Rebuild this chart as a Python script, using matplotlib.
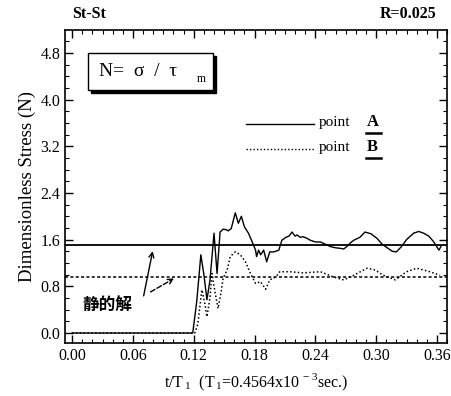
import numpy as np
import matplotlib
matplotlib.use("Agg")
import matplotlib.pyplot as plt
from matplotlib.patches import Rectangle
from matplotlib.ticker import MultipleLocator

plt.rcParams['font.family'] = ['Liberation Serif', 'DejaVu Serif']
plt.rcParams['mathtext.fontset'] = 'custom'
plt.rcParams['mathtext.rm'] = 'Liberation Serif'

# point A (solid)
t_a = [0.0, 0.119, 0.123, 0.127, 0.130, 0.133, 0.136, 0.140, 0.143, 0.146,
       0.149, 0.152, 0.154, 0.157, 0.161, 0.164, 0.167, 0.170, 0.174, 0.177,
       0.181, 0.182, 0.184, 0.186, 0.189, 0.192, 0.195, 0.199, 0.204, 0.205,
       0.207, 0.211, 0.214, 0.217, 0.220, 0.222, 0.225, 0.228, 0.232, 0.235,
       0.240, 0.245, 0.250, 0.255, 0.260, 0.265, 0.268, 0.271, 0.275, 0.278,
       0.284, 0.289, 0.295, 0.301, 0.306, 0.311, 0.316, 0.320, 0.325, 0.330,
       0.337, 0.342, 0.347, 0.352, 0.357, 0.362, 0.364]
s_a = [0.0, 0.0, 0.55, 1.34, 1.0, 0.57, 0.9, 1.71, 1.02, 1.73,
       1.78, 1.77, 1.75, 1.79, 2.06, 1.88, 2.0, 1.82, 1.71, 1.59,
       1.42, 1.31, 1.42, 1.34, 1.42, 1.22, 1.39, 1.39, 1.42, 1.48,
       1.59, 1.64, 1.66, 1.73, 1.66, 1.68, 1.64, 1.65, 1.62, 1.59,
       1.56, 1.56, 1.52, 1.48, 1.46, 1.45, 1.44, 1.48, 1.55, 1.59,
       1.64, 1.73, 1.70, 1.62, 1.52, 1.46, 1.40, 1.39, 1.48, 1.60,
       1.71, 1.74, 1.71, 1.66, 1.56, 1.42, 1.48]

# point B (dotted)
t_b = [0.0, 0.121, 0.124, 0.128, 0.131, 0.133, 0.136, 0.138, 0.141, 0.144,
       0.147, 0.149, 0.153, 0.156, 0.161, 0.166, 0.171, 0.176, 0.181, 0.186,
       0.191, 0.195, 0.201, 0.205, 0.215, 0.228, 0.245, 0.258, 0.268, 0.278,
       0.291, 0.299, 0.307, 0.319, 0.330, 0.340, 0.353, 0.363]
s_b = [0.0, 0.0, 0.15, 0.74, 0.5, 0.28, 0.6, 1.02, 0.7, 0.42,
       0.7, 0.94, 1.08, 1.31, 1.39, 1.34, 1.22, 1.02, 0.85, 0.88,
       0.75, 0.91, 0.96, 1.05, 1.05, 1.03, 1.05, 0.96, 0.91, 0.99,
       1.11, 1.08, 0.99, 0.91, 1.05, 1.11, 1.05, 0.99]

static_a = 1.5
static_b = 0.96

x_ticks = [0.00, 0.06, 0.12, 0.18, 0.24, 0.30, 0.36]
y_ticks = [0.0, 0.8, 1.6, 2.4, 3.2, 4.0, 4.8]

fig = plt.figure(figsize=(4.52, 3.96), dpi=100)
ax = fig.add_axes([0.144, 0.134, 0.845, 0.790])

ax.axhline(static_a, color='black', lw=1.3)
ax.axhline(static_b, color='black', lw=1.1, ls=(0, (2, 1.5)))
ax.plot(t_a, s_a, color='black', lw=1.0)
ax.plot(t_b, s_b, color='black', lw=1.1, ls=(0, (1, 1.5)))

ax.set_xlim(-0.007, 0.370)
ax.set_ylim(-0.17, 5.19)
ax.set_xticks(x_ticks)
ax.set_xticklabels(["%.2f" % v for v in x_ticks])
ax.set_yticks(y_ticks)
ax.set_yticklabels(["%.1f" % v for v in y_ticks])
ax.xaxis.set_minor_locator(MultipleLocator(0.01))
ax.yaxis.set_minor_locator(MultipleLocator(0.2))
ax.tick_params(which='both', direction='in', top=True, right=True, labelsize=11.5)
ax.tick_params(which='major', length=6, width=1)
ax.tick_params(which='minor', length=3, width=0.8)
for sp in ax.spines.values():
    sp.set_linewidth(1.2)

ax.set_ylabel("Dimensionless Stress (N)", fontsize=13.5, labelpad=3)
ax.set_xlabel("t/T$_{\\,1}$  (T$_{\\,1}$=0.4564x10$^{\\,-3}$sec.)", fontsize=11.5, labelpad=6)

fig.text(0.16, 0.955, "St-St", fontsize=11.5, fontweight='bold')
fig.text(0.965, 0.955, "R=0.025", fontsize=11.5, fontweight='bold', ha='right')

# formula box with shadow
ax.add_patch(Rectangle((0.068, 0.798), 0.327, 0.119, transform=ax.transAxes,
                       facecolor='black', edgecolor='black', zorder=4))
ax.add_patch(Rectangle((0.060, 0.808), 0.327, 0.119, transform=ax.transAxes,
                       facecolor='white', edgecolor='black', lw=1.0, zorder=5))
ax.text(0.09, 0.867, "N=  σ  /  τ", transform=ax.transAxes, fontsize=14,
        va='center', zorder=6)
ax.text(0.345, 0.845, "m", transform=ax.transAxes, fontsize=8.5,
        va='center', zorder=6)

# legend
ax.plot([0.474, 0.652], [0.70, 0.70], transform=ax.transAxes, color='black', lw=1.0)
ax.plot([0.474, 0.652], [0.62, 0.62], transform=ax.transAxes, color='black', lw=1.0,
        ls=(0, (1, 1.5)))
ax.text(0.665, 0.705, "point", transform=ax.transAxes, fontsize=11, va='center')
ax.text(0.665, 0.625, "point", transform=ax.transAxes, fontsize=11, va='center')
ax.text(0.79, 0.705, "A", transform=ax.transAxes, fontsize=12, fontweight='bold', va='center')
ax.text(0.79, 0.625, "B", transform=ax.transAxes, fontsize=12, fontweight='bold', va='center')
ax.plot([0.788, 0.826], [0.672, 0.672], transform=ax.transAxes, color='black', lw=1.8)
ax.plot([0.788, 0.826], [0.592, 0.592], transform=ax.transAxes, color='black', lw=1.8)

# static solution annotation
ax.text(0.010, 0.48, "静的解", fontsize=12, fontweight='bold',
        family=['Noto Sans CJK JP', 'DejaVu Sans'], va='center')
ax.annotate("", xy=(0.080, 1.45), xytext=(0.070, 0.59),
            arrowprops=dict(arrowstyle='->', color='black', lw=1.0, mutation_scale=9))
ax.annotate("", xy=(0.103, 0.96), xytext=(0.075, 0.68),
            arrowprops=dict(arrowstyle='->', color='black', lw=1.0, ls='--', mutation_scale=9))

fig.savefig("out.png", dpi=100)
